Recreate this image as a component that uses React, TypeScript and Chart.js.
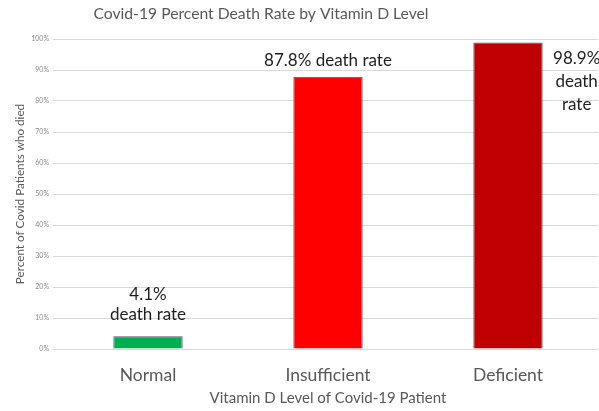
import React, { useEffect, useRef } from "react";
import { Chart, registerables } from "chart.js";

Chart.register(...registerables);

const chartTitle = "Covid-19 Percent Death Rate by Vitamin D Level";
const categories = ["Normal", "Insufficient", "Deficient"];
const deathRates = [4.1, 87.8, 98.9];
const barColors = ["#00B050", "#FF0000", "#C00000"];
const labelLines = [["4.1%", "death rate"], ["87.8% death rate"], ["98.9%", "death", "rate"]];
const labelPlacement = ["above", "above", "right"];
const yTickValues = [0, 10, 20, 30, 40, 50, 60, 70, 80, 90, 100];

const FONT = "Lato, 'Open Sans', sans-serif";

const labelPlugin = {
  id: "barLabels",
  afterDatasetsDraw(chart: any) {
    const ctx = chart.ctx;
    const meta = chart.getDatasetMeta(0);
    ctx.save();
    ctx.font = `17px ${FONT}`;
    ctx.fillStyle = "#1f1f1f";
    ctx.textAlign = "center";
    ctx.textBaseline = "middle";
    meta.data.forEach((bar: any, i: number) => {
      const lines = labelLines[i];
      const lh = lines.length > 1 && labelPlacement[i] === "right" ? 23 : 20;
      if (labelPlacement[i] === "above") {
        const lastY = bar.y - (lines.length > 1 ? 22 : 16);
        lines.forEach((t, j) => {
          ctx.fillText(t, bar.x, lastY - (lines.length - 1 - j) * lh);
        });
      } else {
        const right = bar.x + bar.width / 2;
        lines.forEach((t, j) => {
          ctx.fillText(t, right + 34, bar.y + 16 + j * lh);
        });
      }
    });
    // chart title
    ctx.font = `15.7px ${FONT}`;
    ctx.fillStyle = "#595959";
    ctx.fillText(chartTitle, 261, 14);
    ctx.restore();
  },
};

export default function App() {
  const ref = useRef<HTMLCanvasElement>(null);
  useEffect(() => {
    if (!ref.current) return;
    const chart = new Chart(ref.current, {
      type: "bar",
      data: {
        labels: categories,
        datasets: [
          {
            data: deathRates,
            backgroundColor: barColors,
            borderColor: "#5b4f6b",
            borderWidth: 1,
            barPercentage: 0.77,
            categoryPercentage: 0.5,
          },
        ],
      },
      options: {
        animation: false,
        responsive: false,
        layout: { padding: { left: 6, right: 1, top: 39, bottom: 0 } },
        plugins: {
          legend: { display: false },
          tooltip: { enabled: false },
          title: { display: false },
        },
        scales: {
          x: {
            afterFit: (axis: any) => {
              axis.height = 62;
            },
            grid: { display: false },
            border: { display: false },
            ticks: {
              color: "#595959",
              font: { family: FONT, size: 17.5 },
              padding: 8,
            },
            title: {
              display: true,
              text: "Vitamin D Level of Covid-19 Patient",
              color: "#595959",
              font: { family: FONT, size: 15 },
              padding: { top: 2, bottom: 4 },
            },
          },
          y: {
            min: 0,
            max: 100,
            afterBuildTicks: (axis: any) => {
              axis.ticks = yTickValues.map((v) => ({ value: v }));
            },
            afterFit: (axis: any) => {
              axis.width = 52;
            },
            grid: { color: "#d9d9d9", drawTicks: true, tickLength: 5, tickColor: "#d9d9d9" },
            border: { display: false },
            ticks: {
              color: "#8c8c8c",
              font: { family: FONT, size: 7 },
              padding: 4,
              callback: (v: any) => `${v}%`,
            },
            title: {
              display: true,
              text: "Percent of Covid Patients who died",
              color: "#595959",
              font: { family: FONT, size: 11.7 },
              padding: { top: 7, bottom: 0 },
            },
          },
        },
      },
      plugins: [labelPlugin],
    });
    return () => chart.destroy();
  }, []);
  return (
    <div style={{ position: "fixed", left: 0, top: 0, width: 599, height: 411, background: "#fff" }}>
      <canvas ref={ref} width={599} height={411} style={{ display: "block" }} />
    </div>
  );
}
